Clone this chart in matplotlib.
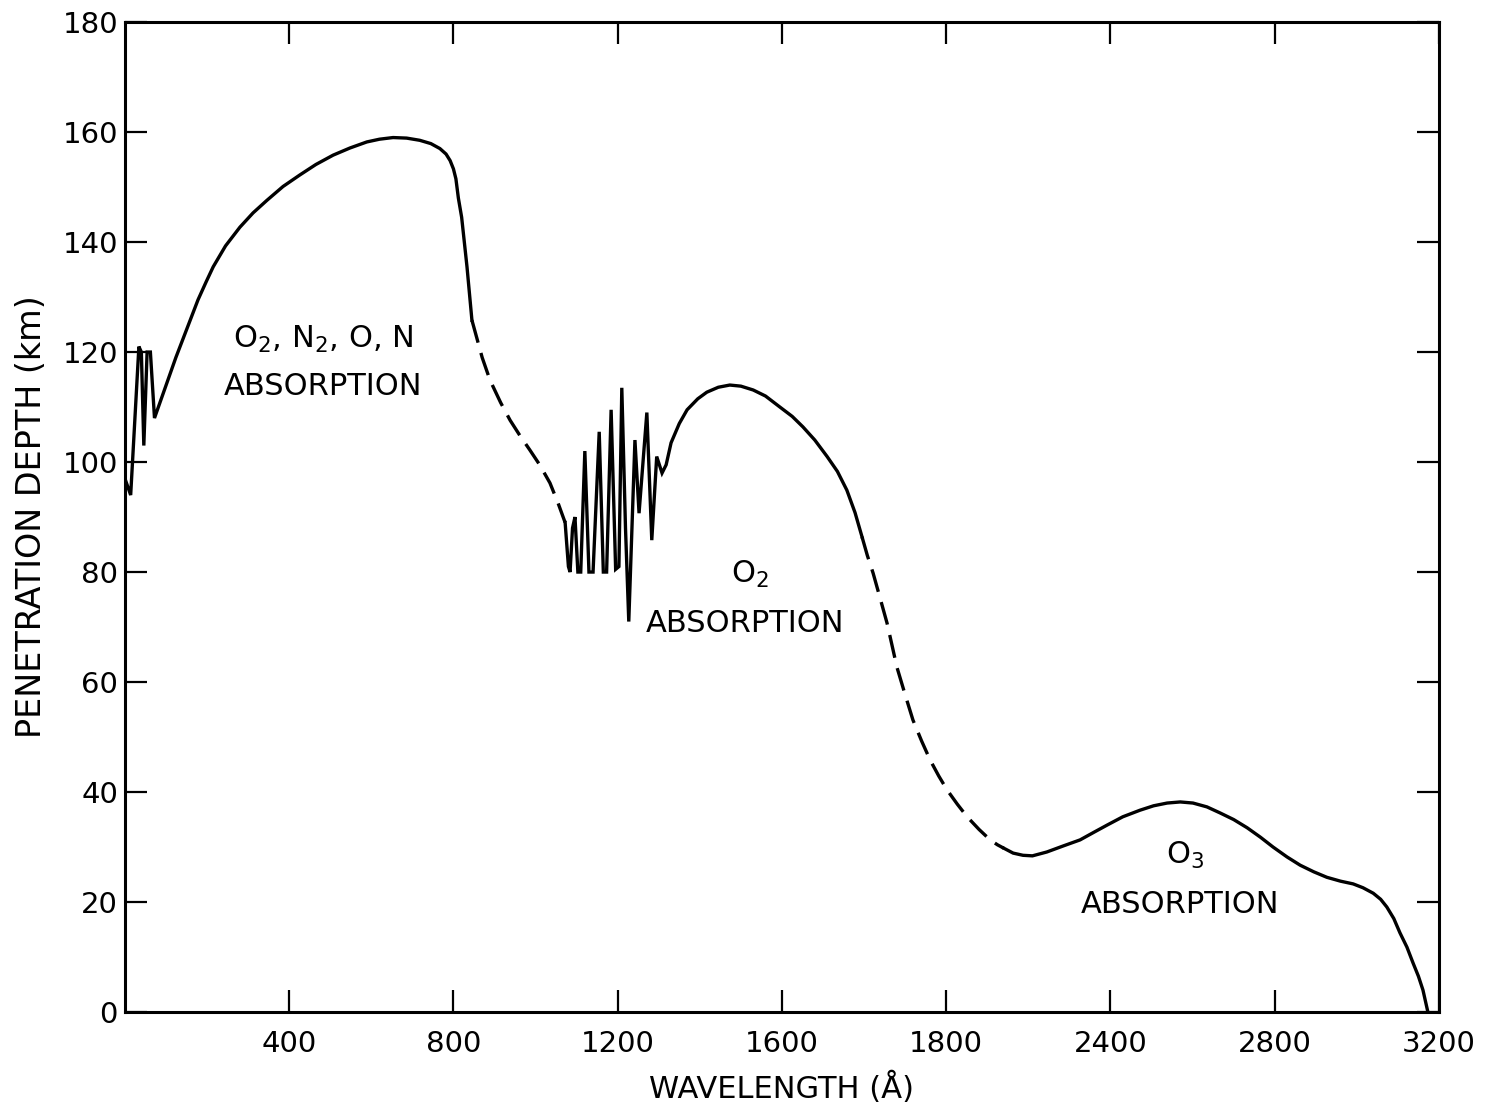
import matplotlib
matplotlib.use("Agg")
import matplotlib.pyplot as plt

plt.rcParams['font.family'] = ['DejaVu Sans']
plt.rcParams['mathtext.default'] = 'regular'

# penetration depth (km) against wavelength (Å), split into solid and dashed pieces
euv_wl = [0, 14, 34, 40, 46, 54, 62, 72, 124, 178, 198, 215, 245, 280, 312, 346,
          385, 426, 465, 507, 548, 589, 620, 653, 686, 718, 745, 767, 782, 792,
          800, 806, 812, 820, 833, 845]
euv_km = [97, 94, 121, 120, 103, 120, 120, 108, 119, 129.5, 132.8, 135.5, 139.3,
          142.7, 145.3, 147.6, 150.1, 152.2, 154.1, 155.8, 157.1, 158.2, 158.7,
          159, 158.9, 158.5, 157.9, 157, 156, 154.8, 153.3, 151.5, 148, 144.5,
          135.5, 125.8]

gap1_wl = [845, 870, 889, 915, 938, 962, 986, 1010, 1035, 1055, 1072]
gap1_km = [125.8, 119, 114.9, 110.8, 107.6, 104.8, 102.2, 99.5, 96.2, 92.5, 89]

o2_wl = [1072, 1080, 1084, 1090, 1096, 1103, 1110, 1120, 1130, 1140, 1155, 1165,
         1173, 1184, 1195, 1203, 1210, 1219, 1227, 1242, 1252, 1271, 1283, 1295,
         1308, 1318, 1330, 1350, 1369, 1395, 1417, 1445, 1473, 1500, 1530, 1560,
         1595, 1625, 1651, 1680, 1710, 1735, 1758, 1778, 1795]
o2_km = [89, 81, 80, 88, 90, 80, 80, 102, 80, 80, 105.5, 80, 80, 109.5, 80.5, 81,
         113.5, 88, 71, 104, 90.7, 109, 85.8, 101, 98, 99.5, 103.5, 107, 109.5,
         111.5, 112.7, 113.6, 114, 113.8, 113.1, 112, 110, 108.3, 106.4, 104, 101,
         98.3, 94.9, 90.8, 86.4]

gap2_wl = [1795, 1808, 1822, 1840, 1856, 1868, 1880, 1900, 1919, 1940, 1961, 1982,
           2002, 2027, 2051, 2080, 2107, 2125, 2140]
gap2_km = [86.4, 83, 79.8, 75, 70.7, 66.7, 62.7, 57.7, 53.1, 49.3, 45.8, 42.9,
           40.4, 37.8, 35.5, 33.2, 31.3, 30.4, 29.8]

o3_wl = [2140, 2163, 2187, 2210, 2245, 2285, 2326, 2360, 2392, 2430, 2472, 2505,
         2538, 2570, 2601, 2635, 2667, 2700, 2733, 2765, 2796, 2830, 2862, 2895,
         2927, 2960, 2991, 3015, 3040, 3058, 3073, 3090, 3105, 3122, 3137, 3150,
         3161, 3173]
o3_km = [29.8, 28.9, 28.5, 28.4, 29.1, 30.2, 31.3, 32.7, 34, 35.5, 36.7, 37.5,
         38, 38.2, 38, 37.3, 36.2, 35, 33.5, 31.8, 30, 28.2, 26.7, 25.5, 24.5,
         23.8, 23.3, 22.6, 21.6, 20.5, 19.1, 17, 14.4, 11.8, 8.9, 6.5, 4, 0]

x_ticks = [400, 800, 1200, 1600, 2000, 2400, 2800, 3200]
x_tick_labels = ['400', '800', '1200', '1600', '1800', '2400', '2800', '3200']
y_ticks = [0, 20, 40, 60, 80, 100, 120, 140, 160, 180]

fig = plt.figure(figsize=(14.89, 11.08), dpi=100)
ax = fig.add_axes([0.0839, 0.0866, 0.8825, 0.8935])

lw = 2.4
for wl, km in [(euv_wl, euv_km), (o2_wl, o2_km), (o3_wl, o3_km)]:
    ax.plot(wl, km, color='black', lw=lw, solid_joinstyle='miter')
for wl, km in [(gap1_wl, gap1_km), (gap2_wl, gap2_km)]:
    ax.plot(wl, km, color='black', lw=lw, dashes=(7, 3.2), dash_capstyle='butt')

ax.set_xlim(0, 3200)
ax.set_ylim(0, 180)
ax.set_xticks(x_ticks)
ax.set_xticklabels(x_tick_labels)
ax.set_yticks(y_ticks)

ax.tick_params(direction='in', length=16, width=1.6, top=True, right=True,
               labelsize=21)
ax.tick_params(axis='x', pad=13)
ax.tick_params(axis='y', pad=5)
for sp in ax.spines.values():
    sp.set_linewidth(2.2)

ax.set_xlabel('WAVELENGTH (Å)', fontsize=22, labelpad=10)
ax.set_ylabel('PENETRATION DEPTH (km)', fontsize=24, labelpad=10)

txt = dict(fontsize=22, ha='center', va='center')
ax.text(482, 122.2, 'O$_2$, N$_2$, O, N', **txt)
ax.text(482, 113.8, 'ABSORPTION', **txt)
ax.text(1522, 79.5, 'O$_2$', **txt)
ax.text(1510, 70.7, 'ABSORPTION', **txt)
ax.text(2582, 28.5, 'O$_3$', **txt)
ax.text(2569, 19.5, 'ABSORPTION', **txt)

fig.savefig('out.png', dpi=100)
